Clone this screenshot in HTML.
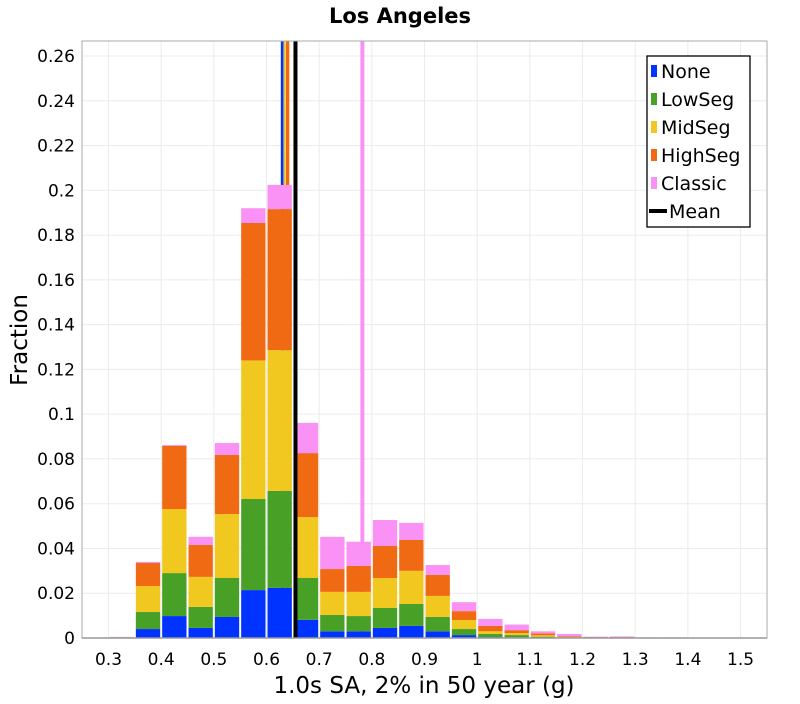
<!DOCTYPE html>
<html><head><meta charset="utf-8"><style>
body{margin:0;background:#fff;font-family:"DejaVu Sans","Liberation Sans",sans-serif;}
svg text{font-family:"DejaVu Sans","Liberation Sans",sans-serif;}
</style></head><body>
<svg id="chart" width="800" height="700" xmlns="http://www.w3.org/2000/svg">
<text x="400" y="23" text-anchor="middle" font-size="21" font-weight="bold">Los Angeles</text>
<g id="grid"></g><g id="means"></g><g id="bars"></g><g id="overall"></g><g id="axes"></g>
<text x="424" y="693" text-anchor="middle" font-size="23">1.0s SA, 2% in 50 year (g)</text>
<text transform="translate(27,340) rotate(-90)" text-anchor="middle" font-size="23">Fraction</text>
<g>
<rect x="647" y="56" width="103" height="171" fill="#fff" stroke="#000" stroke-width="1.3"/>
<g id="legend"></g>
</g>
</svg>
<script>
const binCenters=[0.325,0.375,0.425,0.475,0.525,0.575,0.625,0.675,0.725,0.775,0.825,0.875,0.925,0.975,1.025,1.075,1.125,1.175,1.225,1.275,1.325,1.375,1.425];
const noneVals=[0,0.004,0.0098,0.0045,0.0094,0.0214,0.0224,0.0081,0.003,0.003,0.0045,0.0054,0.003,0.0013,0.0004,0.0003,0.0002,0,0,0,0,0,0];
const lowVals=[0.0002,0.0076,0.0192,0.0094,0.0174,0.0407,0.0433,0.0187,0.0073,0.0068,0.0089,0.0098,0.0064,0.0027,0.0014,0.001,0.0004,0.0002,0.0001,0.0001,0,0,0];
const midVals=[0.0001,0.0116,0.0286,0.0134,0.0286,0.0619,0.0629,0.0272,0.0103,0.0108,0.0134,0.0148,0.0094,0.004,0.0012,0.0009,0.0006,0.0002,0.0001,0.0001,0.0001,0.0001,0];
const highVals=[0.0001,0.0103,0.0282,0.0143,0.0264,0.0614,0.063,0.0286,0.0102,0.0116,0.0143,0.0138,0.0094,0.004,0.0024,0.0013,0.0009,0.0004,0.0002,0.0002,0.0001,0.0001,0.0001];
const classicVals=[0.0001,0.0005,0.0004,0.0036,0.0053,0.0066,0.0108,0.0135,0.0144,0.0108,0.0116,0.0076,0.0044,0.004,0.0031,0.0025,0.0009,0.001,0.0002,0.0003,0.0001,0.0001,0.0001];
const seriesNames=["None","LowSeg","MidSeg","HighSeg","Classic"];
const seriesColors=["#0033ff","#48a026","#f0c820","#f06a14","#fa91f5"];
const meanVals=[0.630,0,0.634,0.640,0.782];
const overallMean=0.655;
const xTicks=[0.3,0.4,0.5,0.6,0.7,0.8,0.9,1,1.1,1.2,1.3,1.4,1.5];
const yTicks=[0,0.02,0.04,0.06,0.08,0.1,0.12,0.14,0.16,0.18,0.2,0.22,0.24,0.26];
const binWidth=0.05;
const L=82,R=767,T=41,B=638;
const X=v=>108.5+(v-0.3)*526.7;
const Y=v=>B-v*2238.5;
const NS="http://www.w3.org/2000/svg";
function mk(tag,attrs,parent){const e=document.createElementNS(NS,tag);for(const k in attrs)e.setAttribute(k,attrs[k]);parent.appendChild(e);return e;}
const grid=document.getElementById('grid'),bars=document.getElementById('bars'),means=document.getElementById('means'),overall=document.getElementById('overall'),axes=document.getElementById('axes'),leg=document.getElementById('legend');
mk('rect',{x:L,y:T,width:R-L,height:B-T,fill:'#fff'},grid);
xTicks.forEach(t=>{
 const l=mk('line',{x1:X(t),x2:X(t),y1:T,y2:B,stroke:'#ebebeb'},grid);
 
 
 const tx=mk('text',{x:X(t),y:665,'text-anchor':'middle','font-size':17},axes);
 tx.textContent=String(t);
 
 
});
yTicks.forEach(t=>{
 const l=mk('line',{x1:L,x2:R,y1:Y(t),y2:Y(t),stroke:'#ebebeb'},grid);
 
 
 const tx=mk('text',{x:75,y:Y(t)+6,'text-anchor':'end','font-size':17},axes);
 tx.textContent=String(t);
 
 
});
const all=[noneVals,lowVals,midVals,highVals,classicVals];
binCenters.forEach((c,i)=>{
 let cum=0;
 const x0=X(c-binWidth/2)+1,w=X(c+binWidth/2)-X(c-binWidth/2)-2;
 all.forEach((s,j)=>{
  const v=s[i]; if(v<=0)return;
  const r=mk('rect',{x:x0,y:Y(cum+v),width:w,height:Y(cum)-Y(cum+v),fill:seriesColors[j]},bars);
  
  
  cum+=v;
 });
});
const widths=[3,3,2,3.5,4];
meanVals.forEach((m,j)=>{
 if(m<=0)return;
 const l=mk('line',{x1:X(m),x2:X(m),y1:T,y2:B,stroke:seriesColors[j],'stroke-width':widths[j]},means);
 
 
});
const ml=mk('line',{x1:X(overallMean),x2:X(overallMean),y1:T,y2:B,stroke:'#000','stroke-width':4},overall);


mk('rect',{x:L,y:T,width:R-L,height:B-T,fill:'none',stroke:'#aaa','stroke-width':1},axes);
mk('line',{x1:L,x2:R,y1:B,y2:B,stroke:'#999','stroke-width':1.5},axes);
const labels=seriesNames.concat(['Mean']);
labels.forEach((n,j)=>{
 const y=71+j*28;
 if(j<5){mk('rect',{x:651,y:y-6,width:6,height:12,fill:seriesColors[j]},leg);}
 else{mk('rect',{x:649,y:y-2,width:18,height:4,fill:'#000'},leg);}
 const t=mk('text',{x:j<5?661:669,y:y+7,'font-size':19},leg);
 t.textContent=n;
 
 
});
</script>
</body></html>
